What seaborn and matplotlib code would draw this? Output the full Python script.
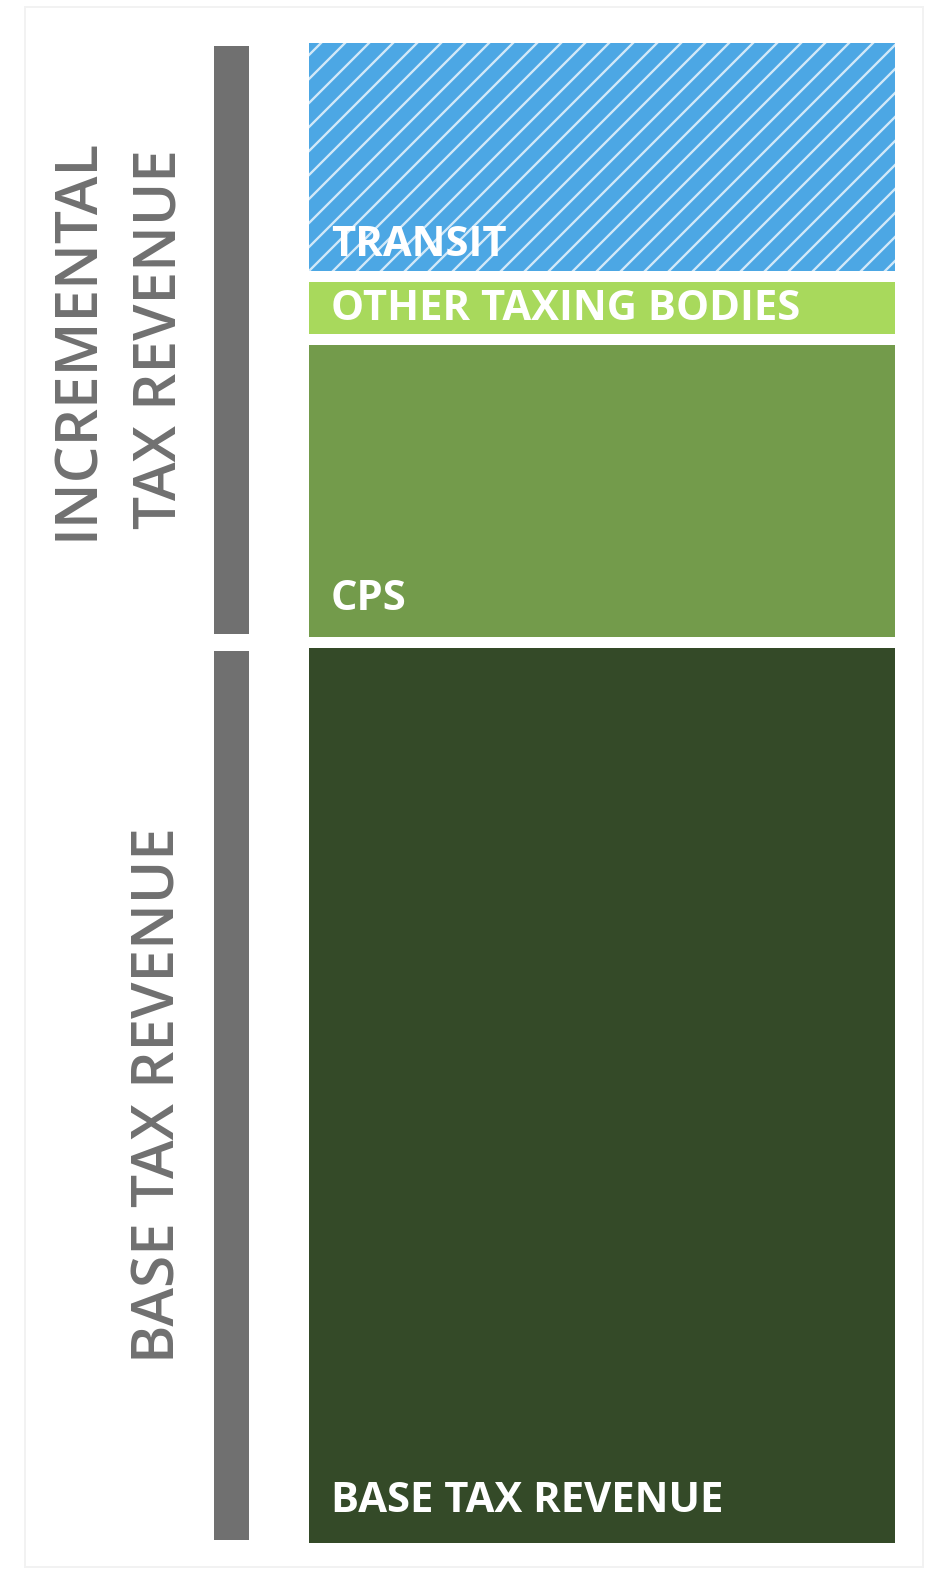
import matplotlib
matplotlib.use("Agg")
import matplotlib.pyplot as plt
import seaborn as sns
import numpy as np
from matplotlib.patches import Rectangle
from matplotlib.lines import Line2D
from matplotlib.transforms import IdentityTransform

# ---- data (heights, arbitrary units) ----
segments = ["BASE TAX REVENUE", "CPS", "OTHER TAXING BODIES", "TRANSIT"]
seg_values = [905.5, 303.5, 62.5, 239.5]
seg_colors = ["#344a28", "#739b4b", "#a8d95c", "#4ca7e4"]
groups = ["BASE TAX REVENUE", "INCREMENTAL TAX REVENUE"]
group_lines = [["BASE TAX REVENUE"], ["INCREMENTAL", "TAX REVENUE"]]
group_members = [[0], [1, 2, 3]]

W, H, DPI = 930, 1575, 140
sns.set_theme(style="white")
plt.rcParams["font.family"] = ["Open Sans", "DejaVu Sans"]

fig = plt.figure(figsize=(W / DPI, H / DPI), dpi=DPI)
fig.patch.set_facecolor("white")

def fx(x):
    return x / W

YMIN, YMAX = -27.5, 1547.5

# ---- main stacked bar ----
ax = fig.add_axes([fx(303.5), 0, fx(596), 1])
cum = np.cumsum(seg_values)
gap_lw = 11 * 72 / DPI
for i in range(len(segments) - 1, -1, -1):
    sns.barplot(x=["Revenue"], y=[cum[i]], color=seg_colors[i], width=1,
                edgecolor="white", linewidth=gap_lw, saturation=1, ax=ax)
ax.set_xlim(-0.5, 0.5)
ax.set_ylim(YMIN, YMAX)
ax.axis("off")

# diagonal stripe texture on the TRANSIT segment: drawn just above the
# transit bar but below the bars stacked over it
transit_patch = ax.patches[0]
transit_patch.set_zorder(0.5)
fig.canvas.draw()
bb = transit_patch.get_window_extent(fig.canvas.get_renderer())
spacing = 24.0
k0 = bb.x0 - bb.y1 - spacing
while k0 < bb.x1 - bb.y0 + spacing:
    ln = Line2D([bb.y0 - 50 + k0, bb.y1 + 50 + k0], [bb.y0 - 50, bb.y1 + 50],
                color="white", alpha=0.75, linewidth=1.2,
                transform=IdentityTransform(), zorder=0.7)
    ln.set_clip_path(transit_patch)
    ax.add_artist(ln)
    k0 += spacing

label_offsets = [30, 26, 13, 14]
bottoms = np.concatenate([[0], cum[:-1]])
for i, name in enumerate(segments):
    ax.text(-0.5 + (331 - 303.5) / 596, bottoms[i] + 5.5 + label_offsets[i], name,
            color="white", fontsize=21.5, fontweight="bold", ha="left",
            va="baseline", zorder=5)

# ---- grouping bars on the left ----
gax = fig.add_axes([fx(204.5), 0, fx(52), 1])
gvals = [sum(seg_values[j] for j in m) for m in group_members]
gcum = np.cumsum(gvals)
gray_lw = 17 * 72 / DPI
for i in range(len(groups) - 1, -1, -1):
    sns.barplot(x=["Group"], y=[gcum[i]], color="#707070", width=1,
                edgecolor="white", linewidth=gray_lw, saturation=1, ax=gax)
gax.set_xlim(-0.5, 0.5)
gax.set_ylim(YMIN, YMAX)
gax.axis("off")

# group labels (rotated)
tax = fig.add_axes([0, 0, fx(200), 1])
tax.set_xlim(0, 200)
tax.set_ylim(YMIN, YMAX)
tax.axis("off")
gb = np.concatenate([[0], gcum[:-1]])
line_x = {1: [160], 2: [78, 160]}
for i, lines in enumerate(group_lines):
    mid = gb[i] + gvals[i] / 2
    for xx, line in zip(line_x[len(lines)], lines):
        tax.text(xx, mid, line, rotation=90, color="#707070", fontsize=30,
                 fontweight="semibold", ha="center", va="center")

# faint frame
fig.add_artist(Rectangle((fx(25), 1 - 1567 / H), fx(898), (1567 - 7) / H,
                         transform=fig.transFigure, fill=False,
                         edgecolor="#f2f2f2", linewidth=1))

fig.savefig("out.png", dpi=DPI)
